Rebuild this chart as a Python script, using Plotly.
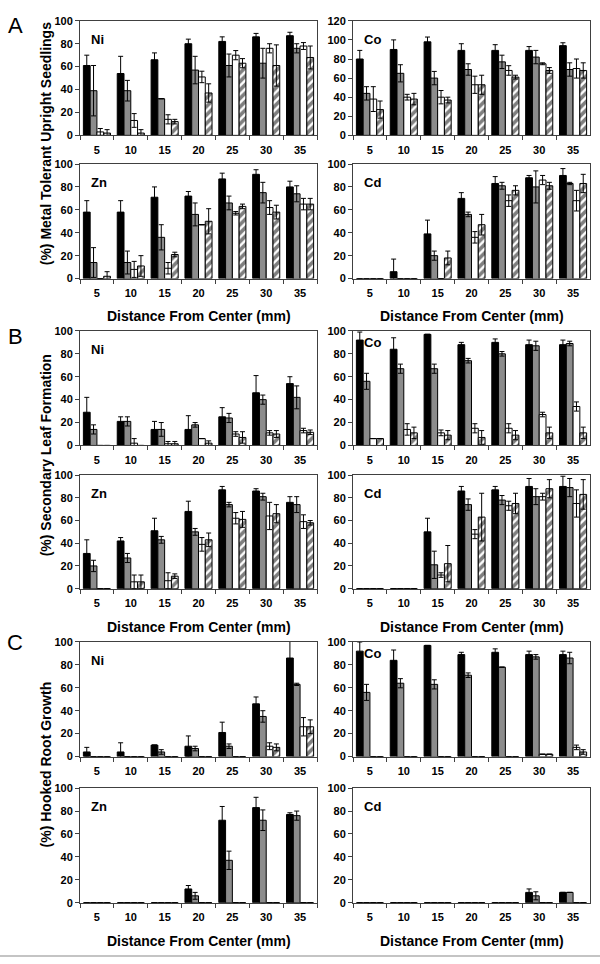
import plotly.graph_objects as go

DIST = ["5", "10", "15", "20", "25", "30", "35"]
SERIES_COLORS = ["#000000", "#8c8c8c", "#ffffff", "#ffffff"]
N = None

# ---- Section A: Metal tolerant upright seedlings ----
A_NI = [[61, 54, 66, 80, 82, 86, 87], [39, 39, 32, 57, 61, 63, 76],
        [3, 13, 14, 51, 70, 76, 78], [2, 2, 12, 37, 63, 61, 68]]
A_NI_ERR = [[9, 15, 6, 4, 4, 3, 3], [22, 9, N, 12, 10, 13, 4],
            [3, 6, 4, 5, 4, 4, 3], [3, 3, 2, 8, 4, 18, 10]]
A_CO = [[80, 90, 98, 89, 89, 89, 94], [44, 65, 60, 69, 77, 82, 69],
        [38, 40, 40, 53, 68, 75, 70], [27, 38, 37, 53, 61, 68, 68]]
A_CO_ERR = [[9, 10, 5, 7, 6, 4, 3], [7, 9, 7, 6, 7, 7, 7],
            [13, 3, 7, 9, 5, 1, 10], [9, 6, 3, 10, 2, 3, 8]]
A_ZN = [[58, 58, 71, 72, 87, 91, 80], [14, 14, 36, 56, 66, 75, 74],
        [0, 8, 9, 47, 57, 62, 65], [2, 11, 21, 50, 63, 58, 65]]
A_ZN_ERR = [[10, 10, 9, 4, 5, 4, 5], [13, 10, 11, 10, 6, 9, 7],
            [N, 7, 5, N, 1.5, 6, 5], [4, 9, 2, 11, 2, 6, 5]]
A_CD = [[0, 6, 39, 70, 83, 88, 90], [0, 0, 20, 56, 81, 80, 83],
        [0, 0, 0, 36, 68, 86, 68], [0, 0, 18, 47, 77, 81, 83]]
A_CD_ERR = [[N, 11, 12, 5, 6, 2, 6], [N, N, 4, 2, 3, 14, 1],
            [N, N, N, 5, 5, 4, 9], [N, N, 6, 9, 4, 3, 8]]

# ---- Section B: Secondary leaf formation ----
B_NI = [[29, 21, 14, 14, 25, 46, 54], [14, 21, 14, 18, 24, 40, 42],
        [0, 2, 1.5, 6, 10, 11, 13], [0, 0, 1.5, 2, 7, 10, 11.5]]
B_NI_ERR = [[13, 4, 7, 12, 8, 15, 6], [4, 4, 6, 2, 4, 4, 10],
            [N, 4, 2, N, 2, 2, 2], [N, N, 2, 2, 5, 3, 2]]
B_CO = [[92, 84, 97, 88, 90, 88, 88], [56, 67, 67, 74, 80, 87, 89],
        [6, 14, 11, 15, 15, 27, 34], [6, 11, 9, 7, 9, 11, 11]]
B_CO_ERR = [[7, 10, N, 2, 3, 4, 4], [7, 4, 4, 2, 2, 4, 2],
            [N, 5, 2.5, 4, 4, 2, 4], [N, 5, 4, 6, 4, 5, 5]]
B_ZN = [[31, 42, 51, 68, 87, 86, 76], [20, 27, 43, 50, 74, 81, 74],
        [0, 6, 7, 39, 62, 64, 59], [0, 6, 11, 43, 61, 66, 58]]
B_ZN_ERR = [[12, 3, 11, 9, 3, 2, 5], [5, 4, 3, 3, 2, 3, 7],
            [N, 6, 7, 6, 5, 12, 6], [N, 6, 2, 6, 7, 8, 2]]
B_CD = [[0, 0, 50, 86, 87, 90, 90], [0, 0, 21, 74, 78, 81, 89],
        [0, 0, 12, 48, 73, 81, 75], [0, 0, 22, 63, 75, 88, 83]]
B_CD_ERR = [[N, N, 12, 4, 3, 7, 9], [N, N, 12, 5, 4, 7, 8],
            [N, N, 2, 4, 4, 3, 12], [N, N, 16, 21, 9, 8, 13]]

# ---- Section C: Hooked root growth ----
C_NI = [[4, 4, 10, 9, 21, 46, 86], [0, 0, 4, 7, 9, 35, 63],
        [0, 0, 0, 0, 0, 9, 26], [0, 0, 0, 0, 0, 8, 26]]
C_NI_ERR = [[4, 8, N, 9, 9, 6, 16], [N, N, 2, 2, 2, 5, 1],
            [N, N, N, N, N, 3, 8], [N, N, N, N, N, 3, 6]]
C_CO = [[92, 84, 97, 89, 91, 89, 89], [56, 64, 63, 71, 78, 87, 86],
        [0, 0, 0, 0, 0, 2, 8], [0, 0, 0, 0, 0, 2, 4]]
C_CO_ERR = [[8, 9, N, 2, 3, 3, 3], [7, 4, 4, 2, N, 2, 5],
            [N, N, N, N, N, N, 2], [N, N, N, N, N, N, 2]]
C_ZN = [[0, 0, 0, 12, 72, 83, 77], [0, 0, 0, 6, 37, 72, 76],
        [0, 0, 0, 0, 0, 0, 0], [0, 0, 0, 0, 0, 0, 0]]
C_ZN_ERR = [[N, N, N, 3, 12, 9, 1.5], [N, N, N, 3, 8, 9, 4],
            [N] * 7, [N] * 7]
C_CD = [[0, 0, 0, 0, 0, 9, 9], [0, 0, 0, 0, 0, 6, 9],
        [0, 0, 0, 0, 0, 0, 0], [0, 0, 0, 0, 0, 0, 0]]
C_CD_ERR = [[N, N, N, N, N, 3, N], [N, N, N, N, N, 3.5, N],
            [N] * 7, [N] * 7]

SECTION_LETTERS = ["A", "B", "C"]
SECTION_TITLES = ["(%) Metal Tolerant Upright Seedlings",
                  "(%) Secondary Leaf Formation",
                  "(%) Hooked Root Growth"]
X_TITLE = "Distance From Center (mm)"
METALS = ["Ni", "Co", "Zn", "Cd"]

PANELS = [
    (A_NI, A_NI_ERR), (A_CO, A_CO_ERR), (A_ZN, A_ZN_ERR), (A_CD, A_CD_ERR),
    (B_NI, B_NI_ERR), (B_CO, B_CO_ERR), (B_ZN, B_ZN_ERR), (B_CD, B_CD_ERR),
    (C_NI, C_NI_ERR), (C_CO, C_CO_ERR), (C_ZN, C_ZN_ERR), (C_CD, C_CD_ERR),
]
Y_MAX = [100, 120, 100, 100] + [100] * 8

# ---- layout geometry (pixels) ----
W, H = 600, 964
COLS = [(80, 317), (353, 590)]
ROWS = [(15, 131), (160, 276), (329, 445), (475, 590), (644, 760), (792, 908)]
SEC_XTITLE_Y = [314, 629, 947]
SEC_YTITLE_Y = [140, 455, 768]
SEC_LETTER_Y = [20, 335, 645]
LABEL_OFFSET = [9, 9, 9, 9, 9, 2, 9, 9, 9, 2, 9, 9]

FONT = "Liberation Sans, Arial, sans-serif"

def px(x):
    return x / W

def py(y):
    return 1 - y / H

fig = go.Figure()
layout = {}
annotations = []

for i, (vals, errs) in enumerate(PANELS):
    k = i + 1
    sec = i // 4
    row = sec * 2 + (i % 4) // 2
    col = i % 2
    x0, x1 = COLS[col]
    y0, y1 = ROWS[row]
    for s in range(4):
        marker = dict(color=SERIES_COLORS[s], line=dict(color="black", width=1))
        if s == 3:
            marker["pattern"] = dict(shape="/", fgcolor="black", bgcolor="white",
                                     size=6, solidity=0.6)
        fig.add_trace(go.Bar(
            x=DIST, y=vals[s],
            error_y=dict(type="data", array=errs[s], visible=True,
                         color="black", thickness=1, width=2.5),
            marker=marker, xaxis=f"x{k}", yaxis=f"y{k}",
            showlegend=False,
        ))
    axfont = dict(family=FONT, size=11, color="black", weight="bold")
    layout[f"xaxis{k}"] = dict(
        domain=[px(x0), px(x1)], anchor=f"y{k}", type="category",
        categoryorder="array", categoryarray=DIST,
        showline=True, mirror=True, linecolor="#404040", linewidth=1,
        ticks="outside", ticklen=4, tickcolor="#404040", tickson="boundaries",
        tickfont=axfont, ticklabelstandoff=4, showgrid=False, zeroline=False,
        fixedrange=True,
    )
    layout[f"yaxis{k}"] = dict(
        domain=[py(y1), py(y0)], anchor=f"x{k}", range=[0, Y_MAX[i]],
        dtick=20, showline=True, mirror=True, linecolor="#404040", linewidth=1,
        ticks="outside", ticklen=4, tickcolor="#404040",
        tickfont=axfont, showgrid=False, zeroline=False, fixedrange=True,
    )
    annotations.append(dict(
        x=px(x0 + 9), y=py(y0 + LABEL_OFFSET[i]), xref="paper", yref="paper",
        text=METALS[i % 4], showarrow=False, xanchor="left", yanchor="top",
        font=dict(family=FONT, size=13, color="black", weight="bold"),
    ))

for sec in range(3):
    for col in range(2):
        x0, x1 = COLS[col]
        annotations.append(dict(
            x=px((x0 + x1) / 2), y=py(SEC_XTITLE_Y[sec]), xref="paper", yref="paper",
            text=X_TITLE, showarrow=False, xanchor="center", yanchor="middle",
            font=dict(family=FONT, size=14, color="black", weight="bold"),
        ))
    annotations.append(dict(
        x=px(46), y=py(SEC_YTITLE_Y[sec]), xref="paper", yref="paper",
        text=SECTION_TITLES[sec], showarrow=False, textangle=-90,
        xanchor="center", yanchor="middle",
        font=dict(family=FONT, size=14, color="black", weight="bold"),
    ))
    annotations.append(dict(
        x=px(15), y=py(SEC_LETTER_Y[sec]), xref="paper", yref="paper",
        text=SECTION_LETTERS[sec], showarrow=False,
        xanchor="center", yanchor="middle",
        font=dict(family=FONT, size=22, color="black"),
    ))

fig.update_layout(
    width=W, height=H, margin=dict(l=0, r=0, t=0, b=0, pad=0),
    autosize=False,
    paper_bgcolor="white", plot_bgcolor="white",
    barmode="group", bargap=0.2, bargroupgap=0,
    annotations=annotations,
    shapes=[dict(type="line", xref="paper", yref="paper",
                 x0=0, x1=1, y0=py(962), y1=py(962),
                 line=dict(color="#b0b0b0", width=1.5))],
    **layout,
)

fig.write_html(
    "out.html",
    config={"responsive": False, "displayModeBar": False},
    post_script="document.body.style.margin='0';document.body.style.padding='0';"
                "document.documentElement.style.overflow='hidden';",
)
